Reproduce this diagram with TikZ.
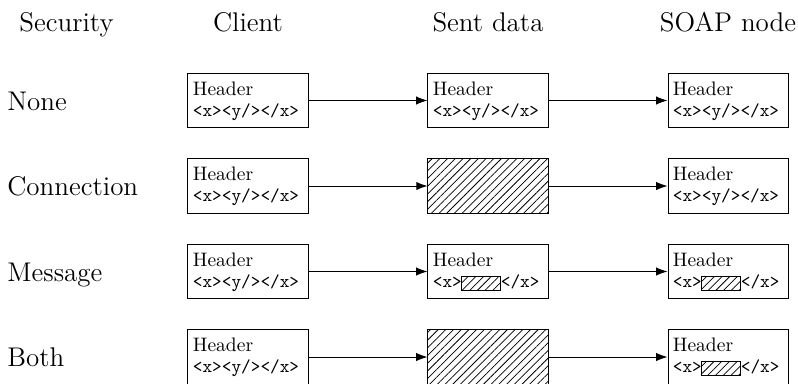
\documentclass[tikz,border=0pt]{standalone}
\usetikzlibrary{arrows.meta,patterns.meta,calc}

\tikzset{
  box/.style={draw, line width=0.5pt, minimum width=64pt, minimum height=29pt, inner sep=0pt},
  hatch/.style={pattern={Lines[angle=45,distance=2.9pt,line width=0.4pt]}},
  hatched/.style={box, hatch},
  lbl/.style={font=\fontsize{14.4}{16}\selectfont, inner sep=0pt},
  hdr/.style={font=\fontsize{10.4}{12}\selectfont, inner sep=0pt, anchor=base west},
  xml/.style={font=\ttfamily\fontsize{9.8}{12}\selectfont, inner sep=0pt, anchor=base west},
  flow/.style={-{Latex[length=6pt,width=4.4pt]}, line width=0.5pt},
}

% a message box: name, x, y, body line
\newcommand\xmlbox[4]{%
  \node[box] (#1) at (#2,#3) {};
  \node[hdr] (#1h) at ($(#1.north west)+(2.7pt,-12pt)$) {Header};
  \node[xml] (#1t) at ($(#1.north west)+(2.7pt,-23.1pt)$) {#4};
}

% a message box whose body element is encrypted: name, x, y
\newcommand\cipherbox[3]{%
  \node[box] (#1) at (#2,#3) {};
  \node[hdr] (#1h) at ($(#1.north west)+(2.7pt,-12pt)$) {Header};
  \node[xml] (#1o) at ($(#1.north west)+(2.7pt,-23.1pt)$) {<x>};
  \draw[line width=0.4pt, hatch] ($(#1o.base east)+(-0.6pt,-1.5pt)$) rectangle ($(#1o.base east)+(20.4pt,5.8pt)$)
    coordinate (#1e);
  \node[xml] (#1c) at ($(#1o.base east)+(20.4pt,0)$) {</x>};
}

\begin{document}
\begin{tikzpicture}[x=0.533pt, y=-0.533pt]
  \useasboundingbox (0,0) rectangle (798,383);

  % column headings
  \node[lbl, anchor=base west] (hsec) at (19,31) {Security};
  \node[lbl, anchor=base] (hcli) at (248,31) {Client};
  \node[lbl, anchor=base] (hsent) at (488,31) {Sent data};
  \node[lbl, anchor=base] (hsoap) at (728,31) {SOAP node};

  % row labels
  \node[lbl, anchor=base west] (lnone) at (7,110) {None};
  \node[lbl, anchor=base west] (lconn) at (7,195.5) {Connection};
  \node[lbl, anchor=base west] (lmsg) at (7,281) {Message};
  \node[lbl, anchor=base west] (lboth) at (7,366.5) {Both};

  % no security
  \xmlbox{c1}{248}{100.5}{<x><y/></x>}
  \xmlbox{s1}{488}{100.5}{<x><y/></x>}
  \xmlbox{n1}{728}{100.5}{<x><y/></x>}

  % connection security
  \xmlbox{c2}{248}{186}{<x><y/></x>}
  \node[hatched] (s2) at (488,186) {};
  \xmlbox{n2}{728}{186}{<x><y/></x>}

  % message security
  \xmlbox{c3}{248}{271.5}{<x><y/></x>}
  \cipherbox{s3}{488}{271.5}
  \cipherbox{n3}{728}{271.5}

  % both
  \xmlbox{c4}{248}{357}{<x><y/></x>}
  \node[hatched] (s4) at (488,357) {};
  \cipherbox{n4}{728}{357}

  \foreach \r in {1,2,3,4}{
    \draw[flow] (c\r) -- (s\r);
    \draw[flow] (s\r) -- (n\r);
  }
\end{tikzpicture}
\end{document}
